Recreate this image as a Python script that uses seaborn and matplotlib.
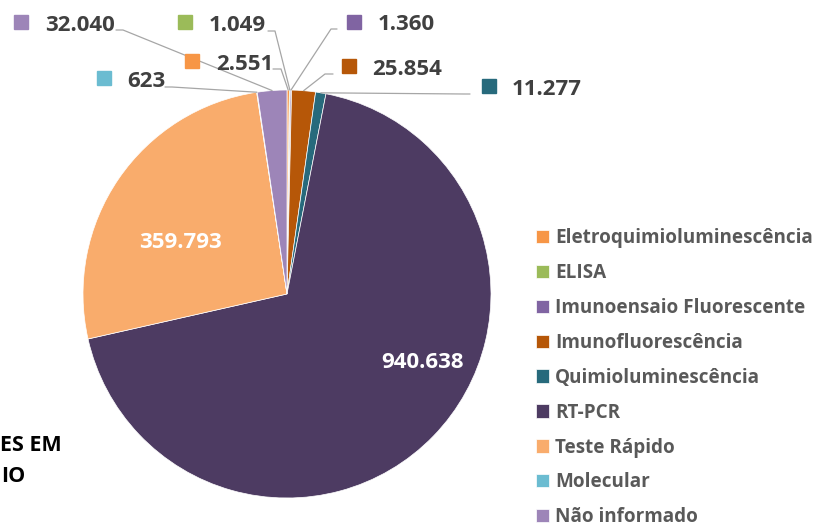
import matplotlib
matplotlib.use('Agg')
import matplotlib.pyplot as plt
import seaborn as sns
import numpy as np

categories = ['Eletroquimioluminescência', 'ELISA', 'Imunoensaio Fluorescente',
              'Imunofluorescência', 'Quimioluminescência', 'RT-PCR',
              'Teste Rápido', 'Molecular', 'Não informado']
values = [2551, 1049, 1360, 25854, 11277, 940638, 359793, 623, 32040]
value_labels = ['2.551', '1.049', '1.360', '25.854', '11.277', '940.638',
                '359.793', '623', '32.040']
colors = ['#F79646', '#9BBB59', '#8064A2', '#B65708', '#276A7C', '#4D3B62',
          '#F9AC6C', '#6BBCD1', '#9D85B8']
title_lines = ['ES EM', 'IO']

sns.set_theme(style='white')
plt.rcParams['font.family'] = ['Open Sans', 'DejaVu Sans']

W, H = 819, 526
fig = plt.figure(figsize=(W / 100, H / 100), dpi=100)
cx, cy, R = 287, 294, 204
ax = fig.add_axes([(cx - R) / W, (H - cy - R) / H, 2 * R / W, 2 * R / H])
wedges, _ = ax.pie(values, colors=sns.color_palette(colors), startangle=90,
                   counterclock=False, radius=1,
                   wedgeprops=dict(edgecolor='white', linewidth=0.5))
ax.set_xlim(-1, 1)
ax.set_ylim(-1, 1)
ax.set_aspect('equal')
ax.axis('off')


def d(px, py):
    return ((px - cx) / R, (cy - py) / R)


val_color = '#404040'
line_color = '#A6A6A6'
# outside labels: idx -> (square center, text left, text baseline, line start, elbow)
outside = {
    8: ((21, 22), 45, 31, (116, 30), (123, 30)),
    1: ((185, 22), 209, 31, (268, 31), (275, 31)),
    2: ((354, 22), 378, 30, (337, 29), (331, 29)),
    0: ((192, 61), 216, 70, (273, 69), (281, 69)),
    3: ((349, 66), 372, 75, (333, 74), (325, 74)),
    4: ((489, 86), 512, 95, (470, 94), (464, 94)),
    7: ((104, 78), 127, 87, (165, 87), (172, 87)),
}
for i, (sq, tx, ty, ls, le) in outside.items():
    w = wedges[i]
    ang = np.deg2rad((w.theta1 + w.theta2) / 2)
    ex, ey = np.cos(ang), np.sin(ang)
    x0, y0 = d(*ls)
    x1, y1 = d(*le)
    ax.plot([x0, x1, ex], [y0, y1, ey], color=line_color, lw=0.9, clip_on=False,
            zorder=1)
    sx, sy = d(*sq)
    ax.plot([sx], [sy], marker='s', markersize=10, color=colors[i],
            linestyle='none', clip_on=False)
    x, y = d(tx, ty)
    ax.text(x, y, value_labels[i], ha='left', va='baseline', fontsize=16,
            fontweight='bold', color=val_color)

# inside labels
for i, (px, py) in {6: (180, 242), 5: (422, 362)}.items():
    x, y = d(px, py)
    ax.text(x, y, value_labels[i], ha='center', va='center', fontsize=16,
            fontweight='bold', color='white')

leg = fig.legend(wedges, categories, loc='upper left',
                 bbox_to_anchor=(536 / W, 1 - 228 / H), frameon=False,
                 prop=dict(size=13.6, weight='bold'), handlelength=0.7,
                 handleheight=0.7, handletextpad=0.3, labelspacing=0.79,
                 borderpad=0, borderaxespad=0)
for t in leg.get_texts():
    t.set_color('#595959')

fig.text(0 / W, 1 - 451 / H, title_lines[0], ha='left', va='baseline',
         fontsize=15.5, fontweight='bold', color='black')
fig.text(1 / W, 1 - 482 / H, title_lines[1], ha='left', va='baseline',
         fontsize=15.5, fontweight='bold', color='black')

fig.savefig('out.png', dpi=100, facecolor='white')
